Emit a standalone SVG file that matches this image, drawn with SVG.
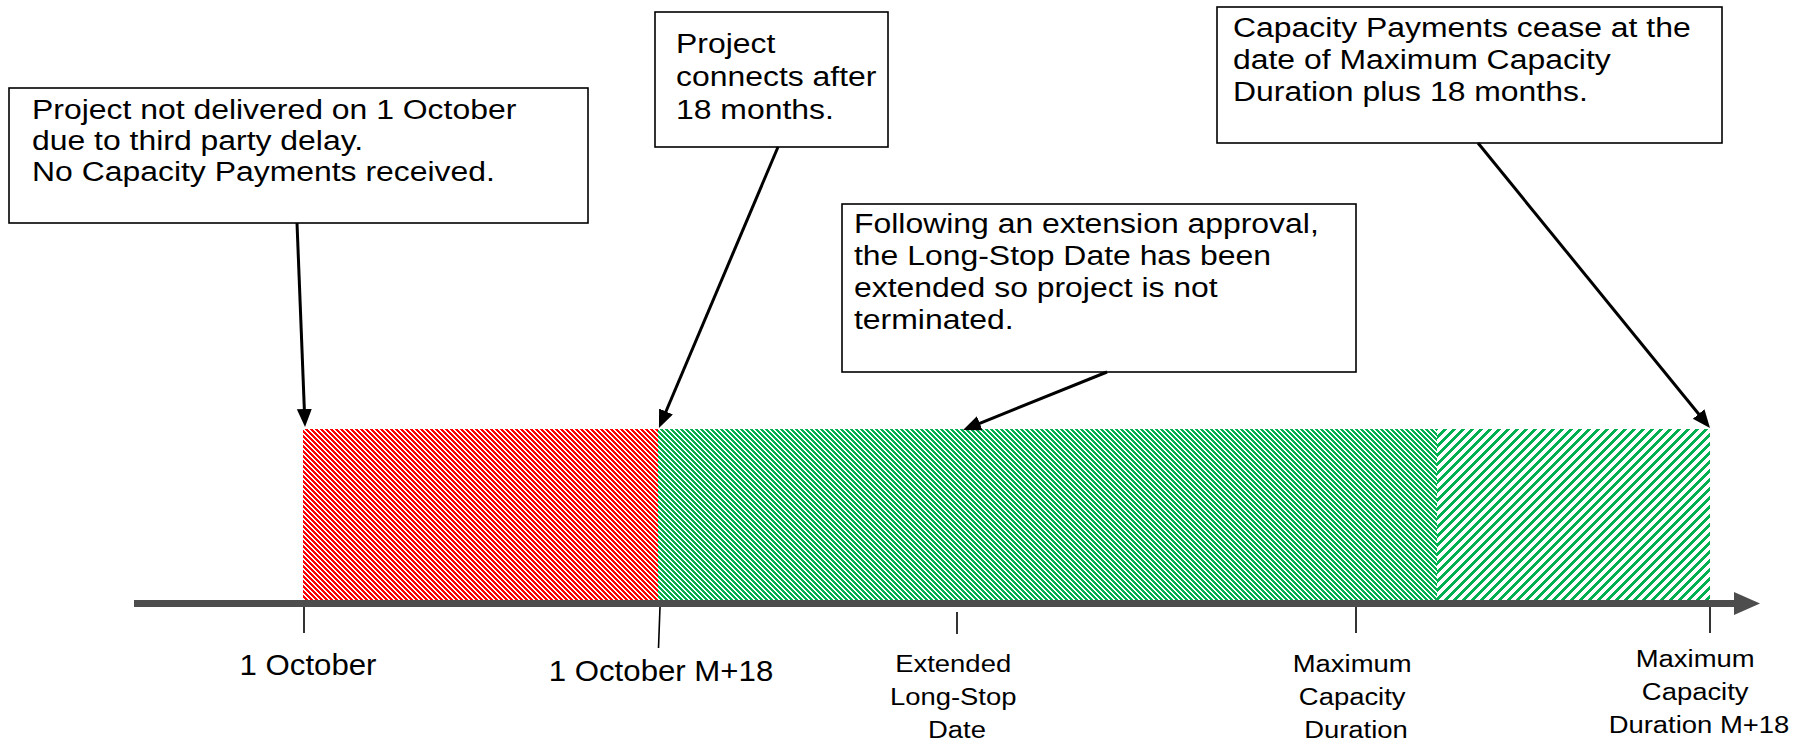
<svg xmlns="http://www.w3.org/2000/svg" width="1806" height="742" viewBox="0 0 1806 742">
  <style>
    text { font-family: "Liberation Sans", Arial, sans-serif; fill: #000; }
    .note { font-size: 28px; }
    .date { font-size: 30px; }
    .mark { font-size: 24.5px; text-anchor: middle; }
    .box { fill: #fff; stroke: #000; stroke-width: 1.6; }
    .link { fill: none; stroke: #000; stroke-width: 3; marker-end: url(#head); }
    .tick { stroke: #000; stroke-width: 1.6; }
    .px { shape-rendering: crispEdges; }
  </style>
  <defs>
    <!-- dark downward diagonal hatch -->
    <pattern id="hatchRed" patternUnits="userSpaceOnUse" width="5" height="5">
      <rect class="px" width="5" height="5" fill="#fff"/>
      <polygon class="px" points="0,0 3,0 5,2 5,5" fill="#ff0000"/>
      <polygon class="px" points="0,2 3,5 0,5" fill="#ff0000"/>
    </pattern>
    <pattern id="hatchGreen" patternUnits="userSpaceOnUse" width="5" height="5">
      <rect class="px" width="5" height="5" fill="#fff"/>
      <polygon class="px" points="0,0 3,0 5,2 5,5" fill="#00b050"/>
      <polygon class="px" points="0,2 3,5 0,5" fill="#00b050"/>
    </pattern>
    <!-- wide upward diagonal hatch -->
    <pattern id="hatchGreenWide" patternUnits="userSpaceOnUse" width="9" height="9">
      <rect class="px" width="9" height="9" fill="#fff"/>
      <polygon class="px" points="0,0 4,0 0,4" fill="#00b050"/>
      <polygon class="px" points="9,0 9,4 4,9 0,9" fill="#00b050"/>
    </pattern>
    <marker id="head" markerUnits="userSpaceOnUse" markerWidth="20" markerHeight="16" refX="12" refY="7.5" orient="auto">
      <path d="M0,0 L18,7.5 L0,15 Z" fill="#000"/>
    </marker>
  </defs>

  <!-- timeline bars -->
  <g id="periods">
    <rect x="303" y="429" width="355" height="171" fill="url(#hatchRed)"/>
    <rect x="658" y="429" width="779" height="171" fill="url(#hatchGreen)"/>
    <rect x="1437" y="429" width="273" height="171" fill="url(#hatchGreenWide)"/>
  </g>

  <!-- time axis -->
  <g id="axis">
    <line x1="134" y1="603.5" x2="1736" y2="603.5" stroke="#4d4d4d" stroke-width="7"/>
    <polygon points="1734,592 1760,603.5 1734,615" fill="#4d4d4d"/>
    <line class="tick" x1="304" y1="607" x2="304" y2="633"/>
    <line class="tick" x1="660" y1="607" x2="658.5" y2="648"/>
    <line class="tick" x1="957" y1="612" x2="957" y2="634"/>
    <line class="tick" x1="1356" y1="607" x2="1356" y2="633"/>
    <line class="tick" x1="1710" y1="607" x2="1710" y2="633"/>
  </g>

  <!-- axis labels -->
  <g id="label-oct">
    <text class="date" transform="translate(308,675) scale(1.04,1)" text-anchor="middle">1 October</text>
  </g>
  <g id="label-oct-m18">
    <text class="date" transform="translate(661,681) scale(1.04,1)" text-anchor="middle">1 October M+18</text>
  </g>
  <g id="label-longstop">
    <text class="mark" transform="translate(957,0) scale(1.12,1)">
      <tspan x="0" y="672">Extended</tspan>
      <tspan x="0" y="705">Long-Stop</tspan>
      <tspan x="0" y="738">Date</tspan>
    </text>
  </g>
  <g id="label-mcd">
    <text class="mark" transform="translate(1356,0) scale(1.12,1)">
      <tspan x="0" y="672">Maximum</tspan>
      <tspan x="0" y="705">Capacity</tspan>
      <tspan x="0" y="738">Duration</tspan>
    </text>
  </g>
  <g id="label-mcd-m18">
    <text class="mark" transform="translate(1699,0) scale(1.12,1)">
      <tspan x="0" y="667">Maximum</tspan>
      <tspan x="0" y="700">Capacity</tspan>
      <tspan x="0" y="733">Duration M+18</tspan>
    </text>
  </g>

  <!-- callouts -->
  <g id="note-delay">
    <rect class="box" x="9" y="88" width="579" height="135"/>
    <text class="note" transform="translate(32,0) scale(1.14,1)">
      <tspan x="0" y="119">Project not delivered on 1 October</tspan>
      <tspan x="0" y="150">due to third party delay.</tspan>
      <tspan x="0" y="181">No Capacity Payments received.</tspan>
    </text>
  </g>
  <g id="note-connects">
    <rect class="box" x="655" y="12" width="233" height="135"/>
    <text class="note" transform="translate(676,0) scale(1.14,1)">
      <tspan x="0" y="53">Project</tspan>
      <tspan x="0" y="86">connects after</tspan>
      <tspan x="0" y="119">18 months.</tspan>
    </text>
  </g>
  <g id="note-extension">
    <rect class="box" x="842" y="204" width="514" height="168"/>
    <text class="note" transform="translate(854,0) scale(1.14,1)">
      <tspan x="0" y="233">Following an extension approval,</tspan>
      <tspan x="0" y="265">the Long-Stop Date has been</tspan>
      <tspan x="0" y="297">extended so project is not</tspan>
      <tspan x="0" y="329">terminated.</tspan>
    </text>
  </g>
  <g id="note-cease">
    <rect class="box" x="1217" y="7" width="505" height="136"/>
    <text class="note" transform="translate(1233,0) scale(1.14,1)">
      <tspan x="0" y="37">Capacity Payments cease at the</tspan>
      <tspan x="0" y="69">date of Maximum Capacity</tspan>
      <tspan x="0" y="101">Duration plus 18 months.</tspan>
    </text>
  </g>

  <!-- connectors -->
  <g id="connectors">
    <line class="link" x1="297" y1="223" x2="304.8" y2="421"/>
    <line class="link" x1="778" y1="147" x2="661.3" y2="422.5"/>
    <line class="link" x1="1107" y1="372" x2="968.6" y2="427.8"/>
    <line class="link" x1="1478" y1="143" x2="1706.2" y2="423.3"/>
  </g>
</svg>
